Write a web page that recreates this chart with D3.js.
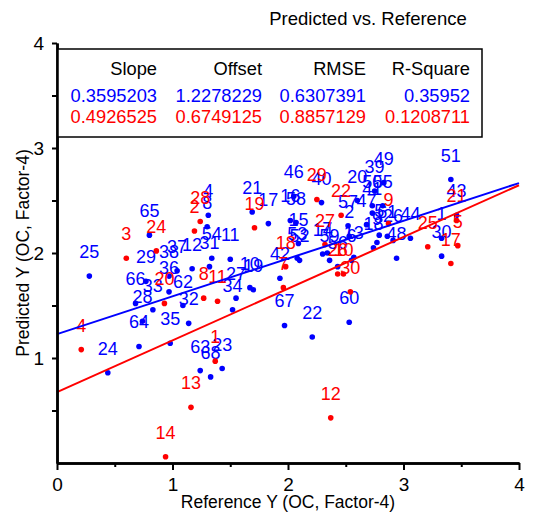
<!DOCTYPE html>
<html>
<head>
<meta charset="utf-8">
<script src="https://cdn.jsdelivr.net/npm/d3@7"></script>
<style>
  body { margin: 0; background: #fff; }
  svg text { font-family: "Liberation Sans", Arial, sans-serif; }
</style>
</head>
<body>
<svg id="chart" width="536" height="518"></svg>
<script>
// sample ids + reference / predicted values
const blueIds = [25, 65, 29, 38, 37, 12, 31, 54, 11, 4, 8, 36, 27, 66, 33, 62, 28, 32, 34, 64,
    35, 24, 63, 68, 23, 67, 22, 60, 21, 17, 46, 16, 58, 15, 53, 52, 42, 10, 19, 40,
    20, 57, 2, 47, 14, 7, 59, 56, 13, 6, 39, 49, 50, 55, 41, 61, 5, 26, 44, 18,
    9, 48, 30, 1, 51, 43];
const blueX = [0.28, 0.80, 0.77, 0.97, 1.04, 1.17, 1.32, 1.34, 1.50, 1.31, 1.30, 0.97, 1.55, 0.68, 0.83, 1.09, 0.74, 1.14, 1.52, 0.71,
    0.98, 0.44, 1.24, 1.33, 1.43, 1.97, 2.21, 2.53, 1.69, 1.83, 2.05, 2.02, 2.07, 2.09, 2.08, 2.10, 1.93, 1.67, 1.70, 2.29,
    2.60, 2.52, 2.53, 2.68, 2.30, 2.34, 2.36, 2.43, 2.57, 2.55, 2.75, 2.83, 2.73, 2.82, 2.73, 2.86, 2.79, 2.91, 3.06, 2.74,
    2.77, 2.94, 3.33, 3.33, 3.41, 3.46];
const blueY = [1.78, 2.17, 1.73, 1.78, 1.83, 1.85, 1.87, 1.95, 1.94, 2.36, 2.25, 1.63, 1.57, 1.52, 1.46, 1.50, 1.35, 1.33, 1.46, 1.11,
    1.14, 0.86, 0.88, 0.82, 0.90, 1.31, 1.20, 1.34, 2.39, 2.28, 2.54, 2.31, 2.29, 2.09, 1.95, 1.93, 1.76, 1.67, 1.65, 2.48,
    2.50, 2.26, 2.16, 2.27, 1.99, 2.00, 1.93, 1.87, 1.96, 1.93, 2.59, 2.67, 2.45, 2.45, 2.38, 2.16, 2.17, 2.12, 2.14, 2.05,
    2.10, 1.95, 1.97, 2.14, 2.70, 2.36];

const redIds = [1, 2, 3, 4, 5, 7, 8, 9, 10, 11, 12, 13, 14, 17, 18, 19, 20, 21, 22, 24, 25, 26, 27, 28, 29, 30];
const redX = [1.37, 1.19, 0.60, 0.21, 3.47, 1.96, 1.27, 2.87, 2.48, 1.39, 2.37, 1.16, 0.94, 3.41, 1.98, 1.71, 0.93, 3.46, 2.46, 0.86, 3.21, 2.43, 2.32, 1.24, 2.25, 2.54];
const redY = [0.97, 2.21, 1.95, 1.08, 2.07, 1.67, 1.57, 2.28, 1.80, 1.54, 0.43, 0.53, 0.06, 1.90, 1.87, 2.24, 1.52, 2.31, 2.36, 2.02, 2.06, 1.80, 2.08, 2.30, 2.51, 1.63];

const statHeaders = ["Slope", "Offset", "RMSE", "R-Square"];
const blueStats = ["0.3595203", "1.2278229", "0.6307391", "0.35952"];
const redStats = ["0.4926525", "0.6749125", "0.8857129", "0.1208711"];

const majorTicks = [0, 1, 2, 3, 4];
const minorTicks = [0.5, 1.5, 2.5, 3.5];

const svg = d3.select("#chart");
const x = d3.scaleLinear().domain([0, 4]).range([57, 519]);
const y = d3.scaleLinear().domain([0, 4]).range([463, 43]);

// points + labels
function drawSeries(ids, xs, ys, color) {
    const g = svg.append("g");
    ids.forEach((id, i) => {
        g.append("circle")
            .attr("cx", x(xs[i])).attr("cy", y(ys[i]))
            .attr("r", 2.8).attr("fill", color);
        g.append("text")
            .attr("x", x(xs[i])).attr("y", y(ys[i]) - 18)
            .attr("text-anchor", "middle")
            .attr("font-size", 18).attr("fill", color)
            .text(id);
    });
}

// fitted lines, from slope/offset
function drawFit(stats, color) {
    const slope = +stats[0], offset = +stats[1];
    svg.append("line")
        .attr("x1", x(0)).attr("y1", y(offset))
        .attr("x2", x(4)).attr("y2", y(offset + slope * 4))
        .attr("stroke", color).attr("stroke-width", 2);
}

drawSeries(blueIds, blueX, blueY, "#0000ff");
drawSeries(redIds, redX, redY, "#ff0000");
drawFit(blueStats, "#0000ff");
drawFit(redStats, "#ff0000");

// axes
svg.append("g").attr("transform", "translate(0,463)")
    .call(d3.axisBottom(x).tickValues(majorTicks).tickSize(7).tickSizeOuter(0).tickPadding(8).tickFormat(d3.format("d")));
svg.append("g").attr("transform", "translate(0,463)")
    .call(d3.axisBottom(x).tickValues(minorTicks).tickSize(4).tickSizeOuter(0).tickFormat(""));
svg.append("g").attr("transform", "translate(57,0)")
    .call(d3.axisLeft(y).tickValues(majorTicks.slice(1)).tickSize(5).tickSizeOuter(0).tickPadding(8).tickFormat(d3.format("d")));
svg.append("g").attr("transform", "translate(57,0)")
    .call(d3.axisLeft(y).tickValues(minorTicks).tickSize(5).tickSizeOuter(0).tickFormat(""));

svg.selectAll(".domain").attr("stroke", "#000").attr("stroke-width", 2.5);
svg.selectAll(".tick line").attr("stroke", "#000").attr("stroke-width", 2);
svg.selectAll(".tick text").attr("font-size", 19).attr("fill", "#000")
    .attr("font-family", "'Liberation Sans', Arial, sans-serif");

// titles
svg.append("text").attr("x", 368).attr("y", 25).attr("text-anchor", "middle")
    .attr("font-size", 18.5).text("Predicted vs. Reference");
svg.append("text").attr("x", 288).attr("y", 508).attr("text-anchor", "middle")
    .attr("font-size", 17.5).text("Reference Y (OC, Factor-4)");
svg.append("text").attr("transform", "translate(29,253) rotate(-90)").attr("text-anchor", "middle")
    .attr("font-size", 17.5).text("Predicted Y (OC, Factor-4)");

// stats box
svg.append("rect").attr("x", 58).attr("y", 49).attr("width", 424).attr("height", 88)
    .attr("fill", "#fff").attr("stroke", "#000").attr("stroke-width", 1.5);
const colRight = [157, 262, 366, 470];
const rows = [[statHeaders, "#000", 75], [blueStats, "#0000ff", 102], [redStats, "#ff0000", 123]];
rows.forEach(([vals, color, yy]) => {
    vals.forEach((v, i) => {
        svg.append("text").attr("x", colRight[i]).attr("y", yy)
            .attr("text-anchor", "end").attr("font-size", 18.3).attr("fill", color).text(v);
    });
});
</script>
</body>
</html>
